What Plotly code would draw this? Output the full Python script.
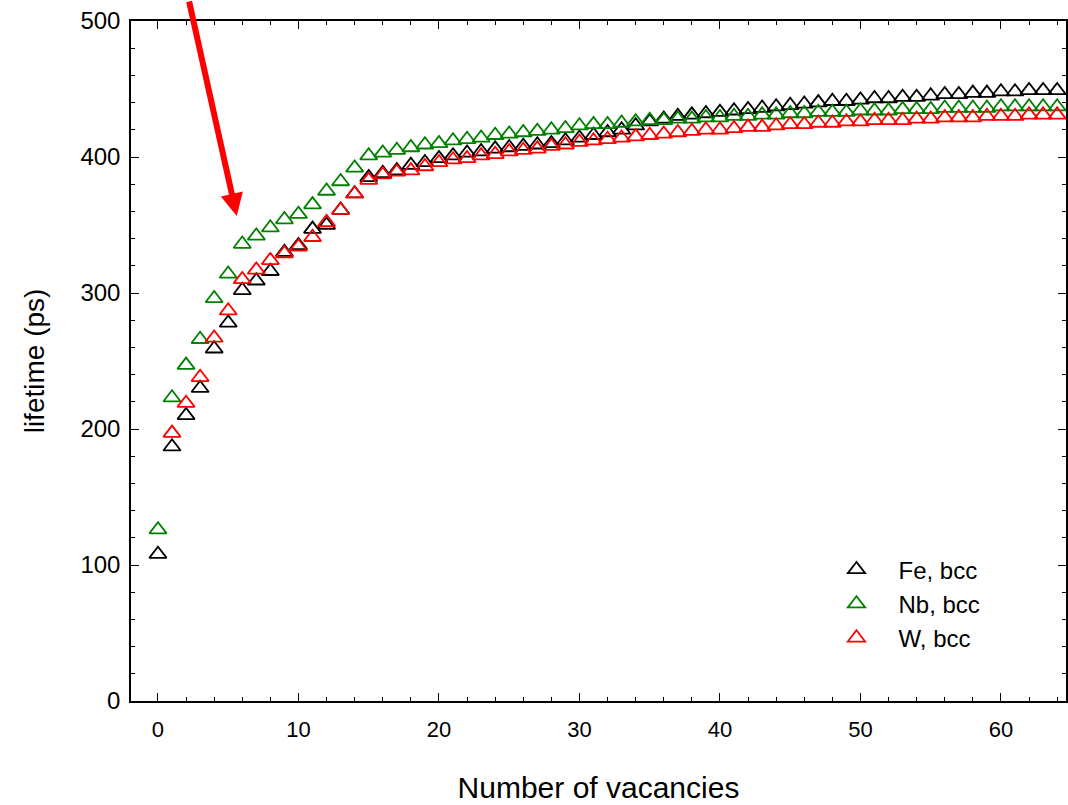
import plotly.graph_objects as go

vac_fe = list(range(0, 65))
vac_nb = list(range(0, 65))
vac_w = list(range(1, 65))

life_fe = [108, 187, 210, 230, 259, 278, 302, 309, 316, 330, 335, 347, 350, 361, 373, 385,
           388, 390, 394, 396, 399, 401, 403, 404, 406, 407, 408, 409, 410, 412, 414, 416,
           418, 420, 423, 426, 428, 430, 431, 432, 433, 434, 435, 436, 437, 438, 439, 440,
           441, 441, 442, 443, 443, 444, 444, 445, 446, 446, 447, 447, 448, 448, 449, 449, 449]
life_nb = [126, 223, 247, 266, 296, 314, 336, 342, 348, 354, 358, 365, 375, 382, 392, 401,
           403, 405, 407, 409, 410, 412, 413, 414, 416, 417, 418, 419, 420, 421, 423, 424,
           424, 425, 426, 427, 427, 428, 428, 429, 429, 430, 430, 431, 431, 432, 432, 433,
           433, 433, 434, 434, 434, 435, 435, 435, 436, 436, 436, 436, 437, 437, 437, 437, 437]
life_w = [197, 219, 238, 267, 287, 310, 317, 324, 329, 334, 341, 352, 361, 373, 383,
          387, 389, 390, 393, 396, 398, 399, 401, 402, 404, 405, 406, 408, 409, 411, 412,
          413, 414, 415, 416, 417, 418, 419, 420, 420, 421, 422, 422, 423, 424, 424, 425,
          425, 426, 426, 427, 427, 427, 428, 428, 429, 429, 429, 430, 430, 430, 431, 431, 431]

series_names = ["Fe, bcc", "Nb, bcc", "W, bcc"]
series_colors = ["#000000", "#008000", "#ff0000"]

x_ticks = [0, 10, 20, 30, 40, 50, 60]
y_ticks = [0, 100, 200, 300, 400, 500]

FONT = "Arial, Liberation Sans, sans-serif"

fig = go.Figure()
for xs, ys, name, col in zip([vac_fe, vac_nb, vac_w], [life_fe, life_nb, life_w],
                             series_names, series_colors):
    fig.add_trace(go.Scatter(
        x=xs, y=ys, mode="markers", name=name,
        marker=dict(symbol="triangle-up-open", size=15, color=col,
                    line=dict(width=1.8, color=col)),
    ))

axis_common = dict(
    showgrid=False, zeroline=False, showline=True, linecolor="black", linewidth=1.5,
    mirror="ticks", ticks="inside", tickcolor="black", tickwidth=1.3, ticklen=8,
)

fig.update_xaxes(
    range=[-1.92, 64.63], tickvals=x_ticks,
    minor=dict(dtick=2, tick0=0, ticks="inside", ticklen=4, tickcolor="black", tickwidth=1.2),
    tickfont=dict(family=FONT, size=22, color="black"),
    title=dict(text="Number of vacancies", font=dict(family=FONT, size=30, color="black"), standoff=36),
    ticklabelstandoff=8,
    **axis_common,
)
fig.update_yaxes(
    range=[0, 500], tickvals=y_ticks,
    minor=dict(dtick=20, tick0=0, ticks="inside", ticklen=4, tickcolor="black", tickwidth=1.2),
    tickfont=dict(family=FONT, size=24, color="black"),
    title=dict(text="lifetime (ps)", font=dict(family=FONT, size=28, color="black"), standoff=28),
    ticklabelstandoff=4,
    **axis_common,
)

fig.add_annotation(
    x=5.61, y=356.6, xref="x", yref="y", ax=-48, ay=-225, axref="pixel", ayref="pixel",
    text="", showarrow=True, arrowhead=2, arrowsize=0.75, arrowwidth=6, arrowcolor="#ff0000",
    standoff=0, startstandoff=0,
)

fig.update_layout(
    width=1068, height=805,
    margin=dict(l=131, r=0, t=21, b=104),
    paper_bgcolor="white", plot_bgcolor="white",
    font=dict(family=FONT, color="black"),
    showlegend=True,
    legend=dict(
        x=0.731, y=0.226, xanchor="left", yanchor="top",
        bgcolor="rgba(0,0,0,0)", borderwidth=0,
        font=dict(family=FONT, size=24, color="black"),
        itemwidth=74, tracegroupgap=0,
    ),
)

fig.write_html("out.html")
